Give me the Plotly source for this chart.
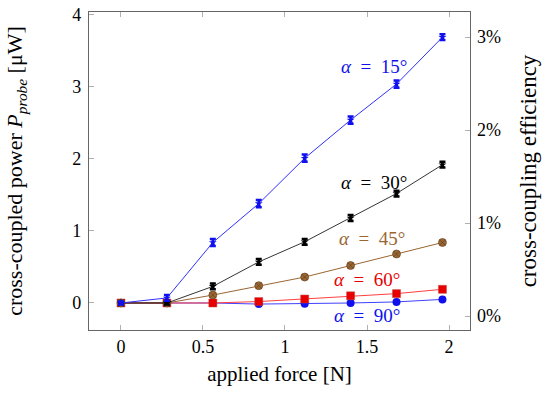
import plotly.graph_objects as go

force = [0, 0.28, 0.56, 0.84, 1.12, 1.40, 1.68, 1.96]
p15 = [0, 0.07, 0.84, 1.38, 2.01, 2.54, 3.04, 3.69]
e15 = [0.02, 0.04, 0.05, 0.05, 0.05, 0.05, 0.05, 0.04]
p30 = [0, 0, 0.23, 0.57, 0.85, 1.18, 1.52, 1.92]
e30 = [0.01, 0.02, 0.04, 0.04, 0.04, 0.04, 0.04, 0.04]
p45 = [0, 0, 0.11, 0.24, 0.36, 0.52, 0.68, 0.84]
p60 = [0, 0, 0, 0.02, 0.055, 0.10, 0.13, 0.19]
p90 = [0, 0, 0, -0.015, -0.01, 0.0, 0.015, 0.05]
labels = ["α = 15°", "α = 30°", "α = 45°", "α = 60°", "α = 90°"]
label_x = [1.54, 1.54, 1.53, 1.50, 1.50]
label_y = [3.28, 1.67, 0.90, 0.33, -0.17]
eff_ticks = [0, 1, 2, 3]
eff_text = ["0%", "1%", "2%", "3%"]

BLUE = "#1010ee"
BLACK = "#000000"
BROWN = "#9a6633"
RED = "#e80000"
FONT = "Liberation Serif"

fig = go.Figure()
fig.add_trace(go.Scatter(x=force, y=p90, mode="lines+markers",
                         line=dict(color="#4040ff", width=1),
                         marker=dict(symbol="circle", size=8, color=BLUE)))
fig.add_trace(go.Scatter(x=force, y=p60, mode="lines+markers",
                         line=dict(color="#ff4040", width=1),
                         marker=dict(symbol="square", size=8, color=RED,
                                     line=dict(color="#c04040", width=0.5))))
fig.add_trace(go.Scatter(x=force, y=p45, mode="lines+markers",
                         line=dict(color=BROWN, width=1),
                         marker=dict(symbol="circle-x", size=8, color=BROWN,
                                     line=dict(color="#5a3a1a", width=0.6))))
fig.add_trace(go.Scatter(x=force, y=p30, mode="lines+markers",
                         line=dict(color=BLACK, width=0.8),
                         error_y=dict(type="data", array=e30, color=BLACK, thickness=2.5, width=3),
                         marker=dict(symbol="star", size=6, color=BLACK)))
fig.add_trace(go.Scatter(x=force, y=p15, mode="lines+markers",
                         line=dict(color="#3030ff", width=1),
                         error_y=dict(type="data", array=e15, color=BLUE, thickness=2.5, width=3),
                         marker=dict(symbol="star", size=6, color=BLUE)))
# invisible trace so the right axis is drawn
fig.add_trace(go.Scatter(x=[0], y=[0], yaxis="y2", mode="markers",
                         marker=dict(opacity=0), hoverinfo="skip"))

colors = [BLUE, BLACK, BROWN, RED, BLUE]
for t, xx, yy, c in zip(labels, label_x, label_y, colors):
    txt = t.replace("α", "<i>α</i>").replace(" = ", "\u2002=\u2002")
    fig.add_annotation(x=xx, y=yy, text=txt, showarrow=False,
                       font=dict(color=c, size=19, family=FONT))

axis_common = dict(showline=True, linecolor="#666666", linewidth=1.2,
                   ticks="inside", ticklen=5, tickcolor="#b0b0b0",
                   showgrid=False, zeroline=False, automargin=False,
                   tickfont=dict(family=FONT, size=18, color="black"))

fig.update_layout(
    width=550, height=396,
    margin=dict(l=89, r=80, t=12, b=66),
    plot_bgcolor="white", paper_bgcolor="white",
    showlegend=False,
    font=dict(family=FONT, size=18, color="black"),
    xaxis=dict(range=[-0.195, 2.128], tickvals=[0, 0.5, 1, 1.5, 2],
               ticktext=["0", "0.5", "1", "1.5", "2"], mirror="ticks",
               title=dict(text="applied force [N]", standoff=10,
                          font=dict(family=FONT, size=21)), **axis_common),
    yaxis=dict(range=[-0.375, 4.04], tickvals=[0, 1, 2, 3, 4], mirror=True,
               ticklabelstandoff=3,
               title=dict(text="cross-coupled power <i>P<sub>probe</sub></i> [μW]", standoff=43,
                          font=dict(family=FONT, size=22)),
               **axis_common),
    yaxis2=dict(range=[-0.15, 3.27], tickvals=eff_ticks, ticktext=eff_text,
                overlaying="y", side="right", automargin=False,
                ticklabelstandoff=6,
                tickfont=dict(family=FONT, size=18, color="black"),
                title=dict(text="cross-coupling efficiency", standoff=19,
                           font=dict(family=FONT, size=23)),
                showline=False, ticks="inside", ticklen=5, tickcolor="#b0b0b0",
                showgrid=False, zeroline=False),
)

fig.write_html("out.html", config={"displayModeBar": False},
               post_script="document.body.style.margin='0';")
